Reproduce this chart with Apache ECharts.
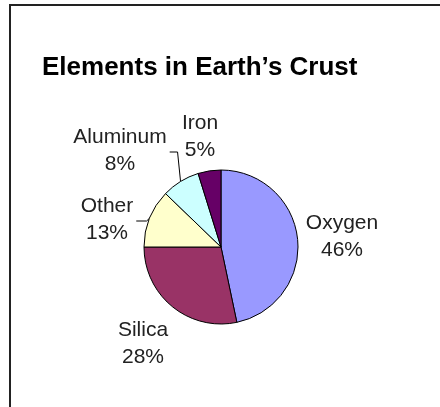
<!DOCTYPE html>
<html>
<head>
<meta charset="utf-8">
<script src="https://cdn.jsdelivr.net/npm/echarts@6/dist/echarts.min.js"></script>
<style>
  body { margin: 0; background: #fff; }
  #chart { width: 440px; height: 407px; }
</style>
</head>
<body>
<div id="chart"></div>
<script>
// slice sizes, clockwise from 12 o'clock
const elements = ["Oxygen", "Silica", "Other", "Aluminum", "Iron"];
const shares = [46.7, 28.3, 12.2, 8.0, 4.8];
// percentages as printed on the chart
const shareLabels = ["46%", "28%", "13%", "8%", "5%"];
const colors = ["#9999FF", "#993366", "#FFFFCC", "#CCFFFF", "#660066"];

// where each label block sits (centre), and which get a leader line
const labelPos = [[342, 237], [143, 344], [107, 220], [120, 151], [200, 137]];
const withLine = [false, false, true, true, false];

const chart = echarts.init(document.getElementById("chart"));

chart.setOption({
  animation: false,
  title: {
    text: "Elements in Earth\u2019s Crust",
    left: 42,
    top: 55,
    padding: 0,
    textStyle: {
      fontFamily: "Arial, Liberation Sans",
      fontWeight: "bold",
      fontSize: 26,
      color: "#000"
    }
  },
  graphic: [{
    type: "polyline",
    shape: { points: [[10, 407], [10, 5], [440, 5]] },
    style: { stroke: "#222", lineWidth: 2, fill: null }
  }],
  series: [{
    type: "pie",
    center: [221, 247],
    radius: 77,
    startAngle: 90,
    clockwise: true,
    avoidLabelOverlap: false,
    itemStyle: { borderColor: "#000", borderWidth: 1 },
    label: {
      position: "outside",
      fontFamily: "Arial, Liberation Sans",
      fontSize: 21,
      lineHeight: 27,
      color: "#222",
      align: "center",
      formatter: (p) => p.name + "\n" + shareLabels[p.dataIndex]
    },
    labelLine: { show: true, lineStyle: { color: "#000", width: 1 } },
    labelLayout: (p) => {
      const [x, y] = labelPos[p.dataIndex];
      const out = { x: x, y: y, align: "center", verticalAlign: "middle" };
      if (withLine[p.dataIndex] && p.labelLinePoints) {
        const edge = p.labelLinePoints[0];
        const right = x + p.labelRect.width / 2 + 3;
        out.labelLinePoints = [edge, [edge[0] - 3, y + 1], [right, y + 1]];
      }
      return out;
    },
    data: elements.map((name, i) => ({
      name: name,
      value: shares[i],
      itemStyle: { color: colors[i] },
      labelLine: { show: withLine[i] }
    }))
  }]
});
</script>
</body>
</html>
